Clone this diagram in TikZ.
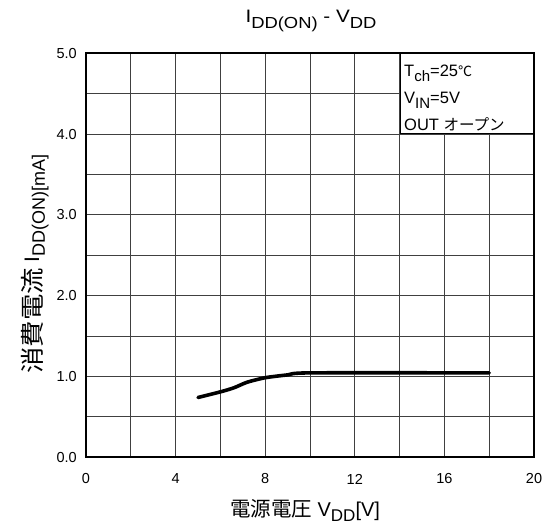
\documentclass[tikz,border=0pt]{standalone}
\usepackage{fontspec}
\usepackage{graphicx}
\setmainfont{Liberation Sans}
\newfontfamily\jp{Noto Sans CJK JP}
\newcommand{\lsub}[2]{\raisebox{-0.28em}{\fontsize{#1}{#1}\selectfont #2}}
\begin{document}
\begin{tikzpicture}[x=1pt,y=-1pt,
  gridline/.style={draw=black!75,line width=0.9pt},
  frameline/.style={draw=black,line width=1.7pt},
  curveline/.style={draw=black,line width=3.6pt,line cap=round,line join=round},
  ticklab/.style={font=\fontsize{14.5}{14.5}\selectfont,inner sep=0pt},
  boxtext/.style={font=\fontsize{16.5}{16.5}\selectfont,inner sep=0pt,anchor=base west},
  axlab/.style={font=\fontsize{20}{20}\selectfont,inner sep=0pt,anchor=base}]
\useasboundingbox (0,0) rectangle (545,524);
% data to pixel: px = 86 + 22.4 v ; py = 457.3 - 80.8 i
\begin{scope}[shift={(86,457.3)},x=22.4pt,y=80.8pt]
  % grid
  \foreach \v in {2,4,...,18} \draw[gridline] (\v,0) -- (\v,5);
  \foreach \i in {0.5,1,...,4.5} \draw[gridline] (0,\i) -- (20,\i);
  % legend box
  \node[draw=black,line width=1pt,fill=white,inner sep=0pt,minimum width=134.4pt,minimum height=80.8pt,anchor=south west] (legend) at (14,4) {};
  % frame
  \draw[frameline] (0,0) rectangle (20,5);
  % curve
  \draw[curveline] plot[smooth,tension=0.4] coordinates {(5,0.74) (6,0.81) (6.6,0.86) (7.2,0.93) (8,0.985) (9,1.02) (10,1.045) (18,1.045)};
  % y tick labels
  \foreach \i in {0,...,5} \node[ticklab,anchor=east] (yt\i) at ([xshift=-9pt]0,\i) {\i.0};
  % x tick labels
  \foreach \v in {0,4,...,20} \node[ticklab] (xt\v) at ([yshift=-21.7pt]\v,0) {\v};
\end{scope}
% legend texts
\node[boxtext] (t1) at (404,77) {T\lsub{15}{ch}=25{\jp\fontsize{14}{14}\selectfont ℃}};
\node[boxtext] (t2) at (404,103.5) {V\lsub{15}{IN}=5V};
\node[boxtext] (t3) at (404,130.5) {OUT {\jp\fontsize{15.5}{15.5}\selectfont オープン}};
% title
\node[font=\fontsize{18}{18}\selectfont,inner sep=0pt,anchor=base] (title) at (311,23) {\scalebox{1.15}[1]{I\lsub{16}{DD(ON)} - V\lsub{16}{DD}}};
% axis labels
\node[axlab] (xlab) at (305,516) {{\jp\fontsize{20.5}{20.5}\selectfont 電源電圧} V\lsub{17}{DD}[V]};
\node[axlab,rotate=90,font=\fontsize{21}{21}\selectfont] (ylab) at (39,264) {\raisebox{-2pt}{\jp\fontsize{24}{24}\selectfont\scalebox{1.1}[1]{消費電流}} I\lsub{18}{DD(ON)[mA]}};
\end{tikzpicture}
\end{document}
